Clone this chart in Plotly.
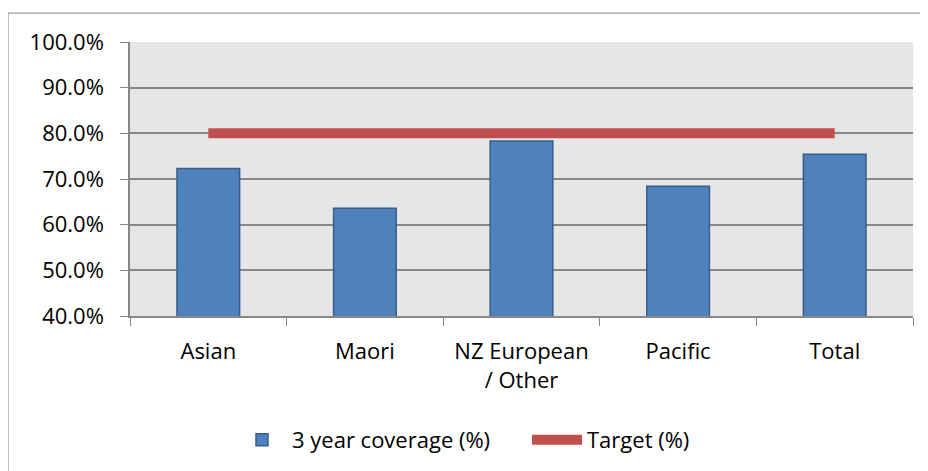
import plotly.graph_objects as go

categories = ["Asian", "Maori", "NZ European<br>/ Other", "Pacific", "Total"]
coverage = [72.3, 63.6, 78.3, 68.4, 75.4]
target = [80.0, 80.0, 80.0, 80.0, 80.0]
y_ticks = [40, 50, 60, 70, 80, 90, 100]
y_tick_labels = ["40.0%", "50.0%", "60.0%", "70.0%", "80.0%", "90.0%", "100.0%"]

FONT = "'Open Sans', 'Noto Sans', sans-serif"

fig = go.Figure()
fig.add_trace(go.Bar(
    x=categories, y=coverage, name="3 year coverage (%)",
    marker=dict(color="#4F81BD", line=dict(color="#385D8A", width=1.5)),
))
fig.add_trace(go.Scatter(
    x=categories, y=target, name="Target (%)", mode="lines",
    line=dict(color="#C0504D", width=10),
))

# page body has an 8px default margin; figure is sized to compensate
OFF = 8
W, H = 928 - OFF, 471 - OFF
ml, mr, mt, mb = 130 - OFF, 15, 42 - OFF, 154
pw, ph = W - ml - mr, H - mt - mb

def px_x(x):
    return (x - OFF - ml) / pw

def px_y(y):
    return 1 - (y - OFF - mt) / ph

fig.add_shape(type="rect", xref="paper", yref="paper",
              x0=px_x(8), x1=px_x(940), y0=px_y(490), y1=px_y(13),
              line=dict(color="#878787", width=1), fillcolor="rgba(0,0,0,0)", layer="below")

fig.update_layout(
    width=W, height=H,
    margin=dict(l=ml, r=mr, t=mt, b=mb, pad=0),
    paper_bgcolor="white", plot_bgcolor="#E6E6E6",
    bargap=0.6,
    font=dict(family=FONT, size=22, color="black"),
    showlegend=True,
    legend=dict(orientation="h", x=px_x(232), xanchor="left", y=px_y(440), yanchor="middle",
                font=dict(size=22), itemwidth=50, entrywidth=230, traceorder="normal"),
    xaxis=dict(
        type="category", tickson="boundaries", ticks="outside", ticklen=8,
        tickcolor="#878787", showline=True, linecolor="#878787", linewidth=1.5,
        showgrid=False, ticklabelstandoff=15,
    ),
    yaxis=dict(
        range=[40, 100], tickvals=y_ticks, ticktext=y_tick_labels,
        ticks="outside", ticklen=8, tickcolor="#878787",
        showline=True, linecolor="#878787", linewidth=1.5,
        showgrid=True, gridcolor="#878787", gridwidth=1.5,
        ticklabelstandoff=12, zeroline=False,
    ),
)

fig.write_html("out.html")
